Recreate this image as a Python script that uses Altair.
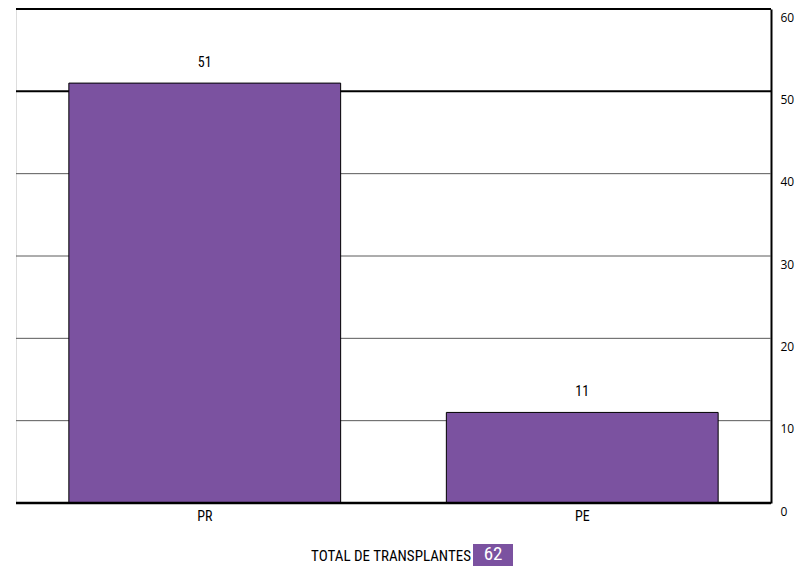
import altair as alt
import pandas as pd

categories = ["PR", "PE"]
values = [51, 11]
thin_grid = [10, 20, 30, 40]
bold_grid = [50, 60]
base_line = [0]
y_ticks = [0, 10, 20, 30, 40, 50, 60]
total_label = "TOTAL DE TRANSPLANTES"

PURPLE = "#7B52A0"
NARROW = "Liberation Sans Narrow, Roboto Condensed, Arial Narrow, sans-serif"

df = pd.DataFrame({"cat": categories, "val": values})
thin_df = pd.DataFrame({"g": thin_grid})
bold_df = pd.DataFrame({"g": bold_grid})
base_df = pd.DataFrame({"g": base_line})
total_df = pd.DataFrame({"t": [total_label], "n": [str(sum(values))]})

yscale = alt.Scale(domain=[0, 60], nice=False)
xscale = alt.Scale(paddingInner=0.28, paddingOuter=0.14)

yaxis = alt.Axis(orient="right", title=None, values=y_ticks,
                 grid=False, ticks=False, domain=True, domainColor="#000",
                 domainWidth=2, labelFont="Open Sans", labelFontSize=12,
                 labelColor="#000000", labelPadding=9, labelBaseline="top",
                 labelOffset=3, labelAlign="left")

thin = alt.Chart(thin_df).mark_rule(color="#5a5a5a", strokeWidth=1).encode(
    y=alt.Y("g:Q", scale=yscale, axis=yaxis)
)
bold = alt.Chart(bold_df).mark_rule(color="#000000", strokeWidth=2).encode(
    y=alt.Y("g:Q", scale=yscale)
)
base = alt.Chart(base_df).mark_rule(color="#000000", strokeWidth=2.5).encode(
    y=alt.Y("g:Q", scale=yscale)
)

bars = alt.Chart(df).mark_bar(color=PURPLE, stroke="#000000", strokeWidth=1).encode(
    x=alt.X("cat:N", sort=categories, scale=xscale,
            axis=alt.Axis(title=None, labelAngle=0, ticks=False, domain=False,
                          labelFont=NARROW, labelFontSize=14, labelColor="#000",
                          labelPadding=6)),
    y=alt.Y("val:Q", scale=yscale),
)

labels = alt.Chart(df).mark_text(font=NARROW, fontSize=14, color="#000", dy=-20,
                                 baseline="middle").encode(
    x=alt.X("cat:N", sort=categories, scale=xscale),
    y=alt.Y("val:Q", scale=yscale),
    text="val:Q",
)

total_text = alt.Chart(total_df).mark_text(font=NARROW, fontSize=15, color="#000",
                                           align="right", baseline="middle").encode(
    x=alt.value(455), y=alt.value(547), text="t:N"
)
total_box = alt.Chart(total_df).mark_rect(color=PURPLE).encode(
    x=alt.value(457), x2=alt.value(497), y=alt.value(535), y2=alt.value(557)
)
total_num = alt.Chart(total_df).mark_text(font=NARROW, fontSize=19, color="#ffffff",
                                          align="center", baseline="middle").encode(
    x=alt.value(477), y=alt.value(545), text="n:N"
)

chart = alt.layer(thin, bold, bars, base, labels, total_box, total_text, total_num).properties(
    width=755, height=494,
    autosize=alt.AutoSizeParams(type="none"),
    padding={"left": 8, "top": 1, "right": 24, "bottom": 64},
).configure_view(stroke=None).configure(background="#ffffff")

chart.save("out.html", embed_options={"renderer": "svg", "actions": False})
